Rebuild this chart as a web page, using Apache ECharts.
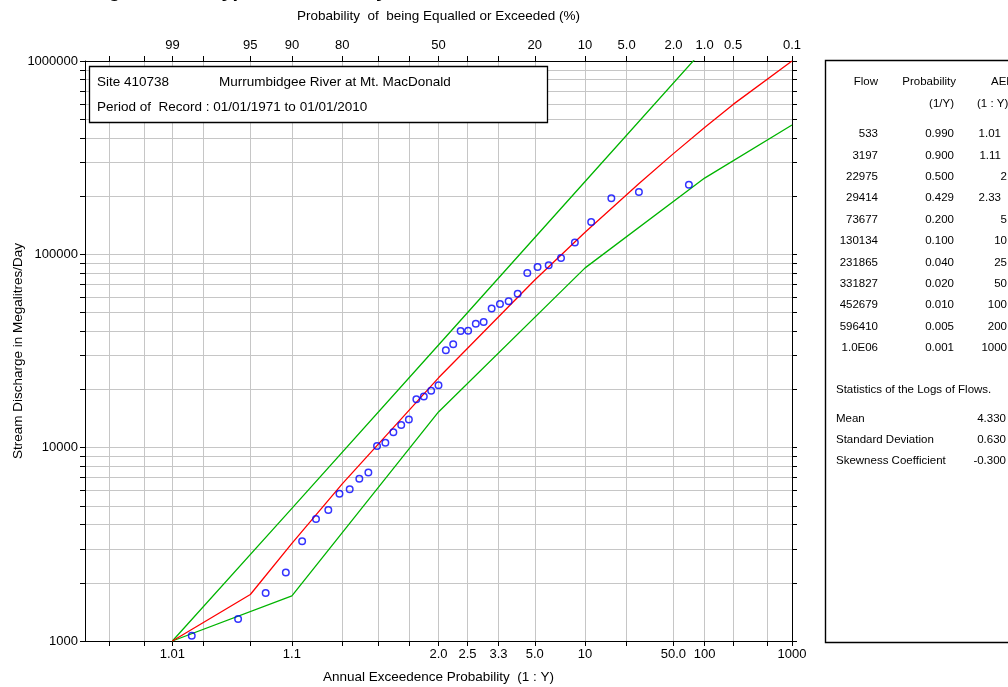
<!DOCTYPE html>
<html><head><meta charset="utf-8">
<script src="https://cdn.jsdelivr.net/npm/echarts@6/dist/echarts.min.js"></script>
<style>html,body{margin:0;padding:0;background:#fff}#c{width:1008px;height:687px}</style>
</head><body><div id="c"></div><script>
// ---------- data ----------
// observed annual maxima (sorted, largest first) and their exceedance probabilities
const obsExceedProb = [0.0143,0.0399,0.0654,0.0910,0.1166,0.1421,0.1677,0.1933,0.2188,0.2444,0.2699,0.2955,0.3211,0.3466,0.3722,0.3978,0.4233,0.4489,0.4744,0.5000,0.5256,0.5511,0.5767,0.6022,0.6278,0.6534,0.6789,0.7045,0.7301,0.7556,0.7812,0.8067,0.8323,0.8579,0.8834,0.9090,0.9346,0.9601,0.9845];
const obsFlow = [229000,210000,195000,147000,115000,95800,87800,86000,80100,62600,57200,55400,52400,44700,43800,40200,40100,34300,31900,21000,19700,18400,17800,14000,13100,12000,10600,10200,7430,6910,6090,5780,4760,4280,3280,2260,1770,1300,1065];
// fitted curve (red)
const fitProb = [0.99,0.95,0.9,0.8,0.5,0.429,0.2,0.1,0.04,0.02,0.01,0.005,0.001];
const fitFlow = [1000,1740,3197,6500,22975,29414,73677,130134,231865,331827,452679,596410,1000000];
// confidence limits (green)
const upperProb = [0.99,0.9,0.5,0.1,0.01];
const upperFlow = [1000,4850,33960,238000,1164000];
const lowerProb = [0.99,0.9,0.5,0.1,0.01,0.001];
const lowerFlow = [1000,1710,15300,85100,248000,467000];
// axis ticks / labels
const tickPercents = [99.9,99.8,99.5,99,98,95,90,80,70,60,50,40,30,20,10,5,2,1,0.5,0.2,0.1];
const topLabelPercents = [99,95,90,80,50,20,10,5,2,1,0.5,0.1];
const topLabels = ['99','95','90','80','50','20','10','5.0','2.0','1.0','0.5','0.1'];
const bottomLabelProbs = [0.99,0.9,0.5,0.4,0.3,0.2,0.1,0.02,0.01,0.001];
const bottomLabels = ['1.01','1.1','2.0','2.5','3.3','5.0','10','50.0','100','1000'];
const yDecades = [1000,10000,100000];
const yMantissas = [1,2,3,4,5,6,7,8,9];
const yLabelValues = [1000,10000,100000,1000000];
// table
const tableFlow = ['533','3197','22975','29414','73677','130134','231865','331827','452679','596410','1.0E06'];
const tableProb = ['0.990','0.900','0.500','0.429','0.200','0.100','0.040','0.020','0.010','0.005','0.001'];
const tableAep = ['1.01','1.11','2','2.33','5','10','25','50','100','200','1000'];
const statNames = ['Mean','Standard Deviation','Skewness Coefficient'];
const statValues = ['4.330','0.630','-0.300'];

// ---------- normal probability scale ----------
function invNorm(p){
  const a=[-3.969683028665376e+01,2.209460984245205e+02,-2.759285104469687e+02,1.383577518672690e+02,-3.066479806614716e+01,2.506628277459239e+00];
  const b=[-5.447609879822406e+01,1.615858368580409e+02,-1.556989798598866e+02,6.680131188771972e+01,-1.328068155288572e+01];
  const c=[-7.784894002430293e-03,-3.223964580411365e-01,-2.400758277161838e+00,-2.549671010224031e+00,4.374664141464968e+00,2.938163982698783e+00];
  const d=[7.784695709041462e-03,3.224671290700398e-01,2.445134137142996e+00,3.754408661907416e+00];
  const pl=0.02425, ph=1-pl; let q,r;
  if(p<pl){q=Math.sqrt(-2*Math.log(p));return (((((c[0]*q+c[1])*q+c[2])*q+c[3])*q+c[4])*q+c[5])/((((d[0]*q+d[1])*q+d[2])*q+d[3])*q+1);}
  if(p<=ph){q=p-0.5;r=q*q;return (((((a[0]*r+a[1])*r+a[2])*r+a[3])*r+a[4])*r+a[5])*q/(((((b[0]*r+b[1])*r+b[2])*r+b[3])*r+b[4])*r+1);}
  q=Math.sqrt(-2*Math.log(1-p));return -(((((c[0]*q+c[1])*q+c[2])*q+c[3])*q+c[4])*q+c[5])/((((d[0]*q+d[1])*q+d[2])*q+d[3])*q+1);
}
const zx = p => invNorm(1-p);           // exceedance probability -> axis coordinate
const Z_MIN = zx(0.999), Z_MAX = zx(0.001);
const tickZ = tickPercents.map(v=>zx(v/100));
const topZ = topLabelPercents.map(v=>zx(v/100));
const botZ = bottomLabelProbs.map(zx);
const yTicks = [];
yDecades.forEach(d=>yMantissas.forEach(m=>yTicks.push(d*m)));
yTicks.push(1000000);
function pick(zs, labels){return function(v){for(let i=0;i<zs.length;i++){if(Math.abs(zs[i]-v)<1e-6)return labels[i];}return '';};}
const pairs = (ps, fs) => ps.map((p,i)=>[zx(p), fs[i]]);

const FONT = '"Liberation Sans", Arial, sans-serif';
const GRID_COLOR = '#c6c6c6';

function xAxisDef(pos, labZ, labTxt, split, name, gap, margin){
  return {
    type:'value', position:pos, min:Z_MIN, max:Z_MAX, gridIndex:0,
    name:name, nameLocation:'middle', nameGap:gap, nameMoveOverlap:false,
    nameTextStyle:{color:'#000', fontSize:13.5, fontFamily:FONT},
    axisLine:{show:true, onZero:false, lineStyle:{color:'#000', width:1}},
    axisTick:{show:true, inside:false, length:5, customValues:tickZ, lineStyle:{color:'#000'}},
    axisLabel:{show:true, customValues:labZ, formatter:pick(labZ,labTxt), color:'#000', fontSize:13, fontFamily:FONT, margin:margin, showMinLabel:true, showMaxLabel:true, hideOverlap:false},
    splitLine:{show:split, lineStyle:{color:GRID_COLOR, width:1}}
  };
}
function yAxisDef(pos, labels, split){
  return {
    type:'log', logBase:10, min:1000, max:1000000, position:pos, gridIndex:0,
    name: pos==='left' ? 'Stream Discharge in Megalitres/Day' : '',
    nameLocation:'middle', nameGap:60, nameMoveOverlap:false,
    nameTextStyle:{color:'#000', fontSize:13.5, fontFamily:FONT},
    axisLine:{show:true, onZero:false, lineStyle:{color:'#000', width:1}},
    axisTick:{show:true, inside:false, length:5, customValues:yTicks, lineStyle:{color:'#000'}},
    axisLabel:{show:labels, customValues:yLabelValues, formatter:v=>String(Math.round(v)), color:'#000', fontSize:13, fontFamily:FONT, margin:7},
    splitLine:{show:split, lineStyle:{color:GRID_COLOR, width:1}},
    minorTick:{show:false}, minorSplitLine:{show:false}
  };
}

// ---------- graphics: info box, table ----------
const g = [];
g.push({type:'text', z:100, x:84, y:1, style:{text:'Log Pearson Type III Probability Distribution', font:'bold 20px '+FONT, fill:'#000', align:'left', verticalAlign:'bottom'}});
g.push({type:'rect', z:100, shape:{x:89.5, y:66.5, width:458, height:56}, style:{fill:'#fff', stroke:'#000', lineWidth:1.3}});
const tf = '13.5px '+FONT;
g.push({type:'text', z:101, x:97, y:82, style:{text:'Site 410738', font:tf, fill:'#000', verticalAlign:'middle'}});
g.push({type:'text', z:101, x:219, y:82, style:{text:'Murrumbidgee River at Mt. MacDonald', font:tf, fill:'#000', verticalAlign:'middle'}});
g.push({type:'text', z:101, x:97, y:107, style:{text:'Period of  Record : 01/01/1971 to 01/01/2010', font:tf, fill:'#000', verticalAlign:'middle'}});
// right panel
g.push({type:'rect', z:100, shape:{x:825.5, y:60.5, width:220, height:582}, style:{fill:'#fff', stroke:'#000', lineWidth:1.4}});
const pf = '11.5px '+FONT;
function t(x,y,text,align){g.push({type:'text', z:101, x:x, y:y, style:{text:text, font:pf, fill:'#000', align:align, verticalAlign:'middle'}});}
t(878,82,'Flow','right'); t(956,82,'Probability','right'); t(991,82,'AEP','left');
t(954,104,'(1/Y)','right'); t(977,104,'(1 : Y)','left');
tableFlow.forEach((v,i)=>{
  const y = 134 + i*21.4;
  t(878,y,v,'right'); t(954,y,tableProb[i],'right');
  t(tableAep[i].indexOf('.')>=0 ? 1001 : 1007, y, tableAep[i], 'right');
});
t(836,390,'Statistics of the Logs of Flows.','left');
statNames.forEach((n,i)=>{const y=419+i*20.7; t(836,y,n,'left'); t(1006,y,statValues[i],'right');});

const option = {
  backgroundColor:'#fff',
  animation:false,
  grid:{left:85, top:61, width:707, height:580, containLabel:false, outerBoundsMode:'none'},
  xAxis:[
    xAxisDef('bottom', botZ, bottomLabels, true, 'Annual Exceedence Probability  (1 : Y)', 29, 7),
    xAxisDef('top', topZ, topLabels, false, 'Probability  of  being Equalled or Exceeded (%)', 38, 9)
  ],
  yAxis:[ yAxisDef('left', true, true), yAxisDef('right', false, false) ],
  graphic:{elements:g},
  series:[
    {type:'line', name:'upper', data:pairs(upperProb, upperFlow), showSymbol:false, symbol:'none', clip:true,
     lineStyle:{color:'#00b400', width:1.3}, z:3},
    {type:'line', name:'lower', data:pairs(lowerProb, lowerFlow), showSymbol:false, symbol:'none', clip:true,
     lineStyle:{color:'#00b400', width:1.3}, z:3},
    {type:'line', name:'fit', data:pairs(fitProb, fitFlow), showSymbol:false, symbol:'none', clip:true,
     lineStyle:{color:'#ff0000', width:1.3}, z:4},
    {type:'scatter', name:'observed', data:pairs(obsExceedProb, obsFlow), symbol:'circle', symbolSize:6.5,
     itemStyle:{color:'rgba(0,0,0,0)', borderColor:'#0000ff', borderWidth:1.5}, z:5}
  ]
};
echarts.init(document.getElementById('c'), null, {renderer:'canvas'}).setOption(option);
</script></body></html>
